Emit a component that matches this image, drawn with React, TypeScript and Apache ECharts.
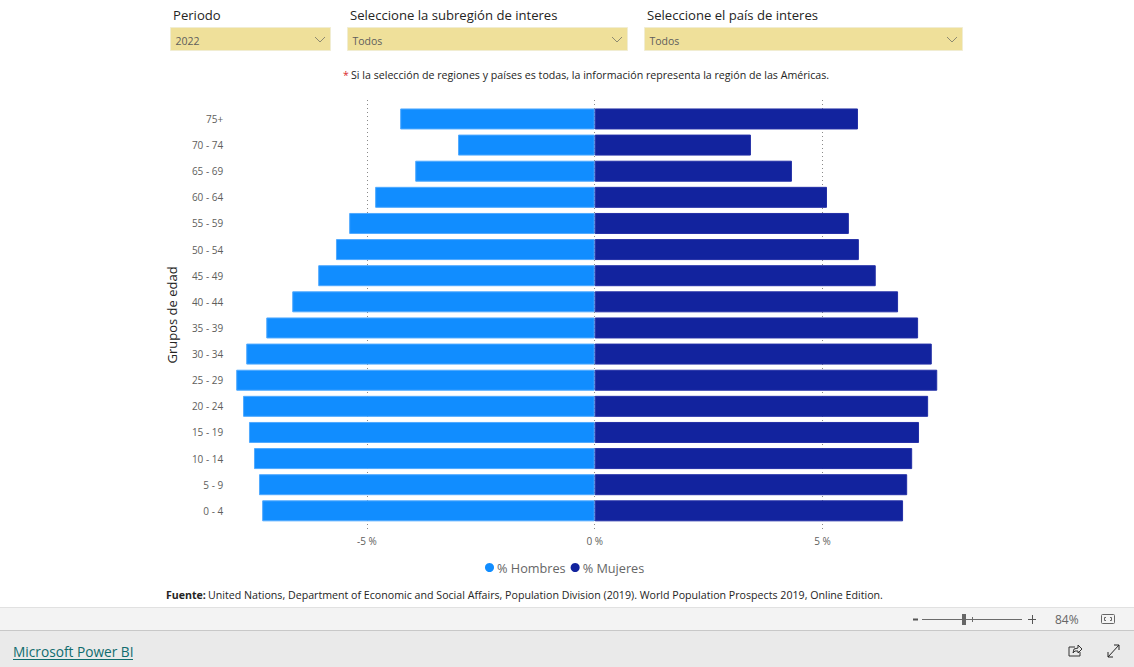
import React, { useEffect, useRef } from "react";
import * as echarts from "echarts";

const ageGroups = ["0 - 4","5 - 9","10 - 14","15 - 19","20 - 24","25 - 29","30 - 34","35 - 39","40 - 44","45 - 49","50 - 54","55 - 59","60 - 64","65 - 69","70 - 74","75+"];
const hombres = [-7.3,-7.37,-7.48,-7.59,-7.72,-7.87,-7.65,-7.21,-6.64,-6.07,-5.68,-5.39,-4.82,-3.94,-3.0,-4.27];
const mujeres = [6.77,6.86,6.97,7.12,7.32,7.52,7.4,7.1,6.66,6.17,5.8,5.58,5.1,4.33,3.43,5.78];
const slicerTitles = ["Periodo","Seleccione la subregión de interes","Seleccione el país de interes"];
const slicerValues = ["2022","Todos","Todos"];

const FONT = "'Open Sans', 'Noto Sans', sans-serif";
const BLUE = "#118DFF";
const NAVY = "#12239E";
const slicers = [
  { x: 170, w: 160, tx: 173 },
  { x: 347, w: 280, tx: 350 },
  { x: 644, w: 318, tx: 647 },
];

function buildGraphics() {
  const g: any[] = [];
  const text = (x: number, y: number, t: string, size: number, fill: string, extra: any = {}) =>
    g.push({ type: "text", x, y, silent: true, style: { text: t, fontFamily: FONT, fontSize: size, fill, textVerticalAlign: "middle", verticalAlign: "middle", ...extra } });
  const line = (x1: number, y1: number, x2: number, y2: number, stroke: string, lineWidth = 1) =>
    g.push({ type: "line", silent: true, shape: { x1, y1, x2, y2 }, style: { stroke, lineWidth } });
  const rect = (x: number, y: number, width: number, height: number, fill: string, stroke?: string) =>
    g.push({ type: "rect", silent: true, shape: { x, y, width, height }, style: { fill, stroke: stroke || "none", lineWidth: 1 } });
  const poly = (points: number[][], stroke: string, lineWidth = 1) =>
    g.push({ type: "polyline", silent: true, shape: { points }, style: { stroke, lineWidth, fill: "none" } });

  slicers.forEach((s, i) => {
    text(s.tx, 14.5, slicerTitles[i], 13.1, "#252423");
    rect(s.x + 0.5, 27.5, s.w, 23, "#EFE09A", "#F1EDD2");
    text(s.x + 5.5, 41, slicerValues[i], 10.5, "#605E5C");
    const cx = s.x + s.w - 10;
    poly([[cx - 5, 37], [cx, 42], [cx + 5, 37]], "#8E8A70");
  });

  text(343, 75, "*", 10.5, "#D9272E");
  text(351, 75, "Si la selección de regiones y países es todas, la información representa la región de las Américas.", 10.65, "#252423");
  text(166, 595, "Fuente:", 10.6, "#252423", { fontWeight: "bold" });
  text(208, 595, "United Nations, Department of Economic and Social Affairs, Population Division (2019). World Population Prospects 2019, Online Edition.", 10.65, "#252423");

  rect(0, 607, 1134, 23, "#F3F3F3");
  line(0, 607.5, 1134, 607.5, "#E1E1E1");
  rect(0, 630, 1134, 37, "#EAEAEA");
  line(0, 630.5, 1134, 630.5, "#C8C8C8");

  text(13, 651, "Microsoft Power BI", 13.7, "#106C6E");
  line(13, 659.5, 133, 659.5, "#106C6E");

  line(913, 619.5, 918, 619.5, "#555", 2);
  line(922, 619.5, 1022, 619.5, "#6B6B6B");
  rect(962, 614, 4, 11, "#666");
  line(972.5, 617, 972.5, 622, "#6B6B6B");
  line(1028, 619.5, 1036, 619.5, "#555");
  line(1032.5, 615, 1032.5, 624, "#555");
  text(1055, 619, "84%", 12, "#666");
  g.push({ type: "rect", silent: true, shape: { x: 1101.5, y: 614.5, width: 13, height: 9, r: 1 }, style: { fill: "none", stroke: "#666" } });
  poly([[1106, 617.5], [1104.5, 617.5], [1104.5, 620.5], [1106, 620.5]], "#666");
  poly([[1110, 617.5], [1111.5, 617.5], [1111.5, 620.5], [1110, 620.5]], "#666");

  poly([[1075, 647], [1069, 647], [1069, 656], [1080, 656], [1080, 652]], "#333");
  poly([[1073, 653], [1074, 649], [1078, 648], [1078, 645], [1082, 649], [1078, 653], [1078, 651], [1075, 651], [1073, 653]], "#333");
  line(1108, 657, 1119, 645, "#222");
  poly([[1108, 652], [1108, 657], [1113, 657]], "#222");
  poly([[1114, 645], [1119, 645], [1119, 650]], "#222");
  return g;
}

export default function App() {
  const ref = useRef<HTMLDivElement>(null);
  useEffect(() => {
    const chart = echarts.init(ref.current!, undefined, { renderer: "svg" });
    const xBase = { type: "value", min: -10, max: 10, interval: 5 };
    chart.setOption({
      animation: false,
      backgroundColor: "#fff",
      textStyle: { fontFamily: FONT },
      grid: [
        { left: 139.2, width: 911, top: 105.9, height: 418, containLabel: false },
        { left: 139.2, width: 911, top: 100, height: 432, containLabel: false },
      ],
      legend: {
        data: ["% Hombres", "% Mujeres"],
        left: 485,
        top: 561,
        icon: "circle",
        itemWidth: 9,
        itemHeight: 9,
        itemGap: 5,
        padding: 0,
        itemStyle: { borderWidth: 0 },
        textStyle: { fontFamily: FONT, fontSize: 12.7, color: "#666", padding: [0, 0, 0, -2] },
      },
      xAxis: [
        { ...xBase, gridIndex: 0, show: false },
        {
          ...xBase,
          gridIndex: 1,
          position: "bottom",
          axisLine: { show: false },
          axisTick: { show: false },
          axisLabel: {
            margin: 4,
            fontSize: 10,
            color: "#605E5C",
            fontFamily: FONT,
            formatter: (v: number) => (Math.abs(v) === 10 ? "" : `${v} %`),
          },
          splitLine: {
            show: true,
            showMinLine: false,
            showMaxLine: false,
            lineStyle: { type: [1, 3], color: "#8a8a8a", width: 1 },
          },
        },
      ],
      yAxis: [
        {
          type: "category",
          gridIndex: 0,
          data: ageGroups,
          position: "left",
          offset: -84,
          axisLine: { show: false, onZero: false },
          axisTick: { show: false },
          axisLabel: { margin: 0, fontSize: 10, color: "#605E5C", fontFamily: FONT, padding: [0, 0, 2, 0] },
          name: "Grupos de edad",
          nameLocation: "middle",
          nameGap: 45,
          nameTextStyle: { fontSize: 13, color: "#252423", fontFamily: FONT },
        },
        { type: "value", gridIndex: 1, min: 0, max: 1, show: false },
      ],
      series: [
        {
          name: "% Hombres",
          type: "bar",
          xAxisIndex: 0,
          yAxisIndex: 0,
          data: hombres,
          barWidth: 21,
          barGap: "-100%",
          itemStyle: { color: BLUE, borderColor: "#4FA9FF", borderWidth: 1 },
        },
        {
          name: "% Mujeres",
          type: "bar",
          xAxisIndex: 0,
          yAxisIndex: 0,
          data: mujeres,
          barWidth: 21,
          barGap: "-100%",
          itemStyle: { color: NAVY, borderColor: "#232FA6", borderWidth: 1 },
        },
      ],
      graphic: { elements: buildGraphics() },
    });
    return () => chart.dispose();
  }, []);
  return <div ref={ref} style={{ position: "absolute", left: 0, top: 0, width: 1134, height: 667 }} />;
}
